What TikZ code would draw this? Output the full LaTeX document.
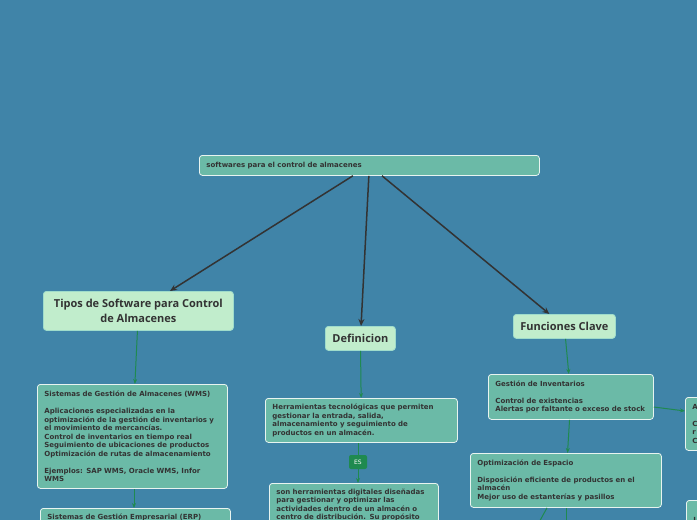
\documentclass[tikz,border=0pt]{standalone}
\usepackage{fontspec}
\setmainfont{DejaVu Sans}
\newfontfamily\headfont{Open Sans}
\usetikzlibrary{arrows.meta,calc}
\definecolor{bg}{HTML}{4084A8}
\definecolor{tealbox}{HTML}{6BBAA7}
\definecolor{mint}{HTML}{C1EDCC}
\definecolor{edgegreen}{HTML}{1F8A50}
\definecolor{ink}{HTML}{333333}
\definecolor{boxline}{HTML}{E8F4F0}
\definecolor{mintline}{HTML}{9FDCCB}
\tikzset{
  tbox/.style={draw=boxline, line width=0.8pt, fill=tealbox, rounded corners=3pt,
    anchor=north west, align=left, inner xsep=7pt, inner ysep=5.5pt,
    font=\bfseries\fontsize{7}{8.5}\selectfont, text=ink},
  mbox/.style={draw=mintline, line width=0.8pt, fill=mint, rounded corners=3pt,
    anchor=north west, align=center, inner sep=0pt,
    font=\headfont\bfseries\fontsize{11}{15}\selectfont, text=ink},
  darrow/.style={draw=ink, line width=1.5pt, -{Stealth[length=7pt,width=6pt]}},
  garrow/.style={draw=edgegreen, line width=1pt, -{Stealth[length=5pt,width=4pt]}},
  gline/.style={draw=edgegreen, line width=1pt},
  eslabel/.style={fill=edgegreen, rounded corners=2pt, text=white, inner sep=0pt,
    minimum width=18pt, minimum height=14pt, font=\fontsize{6}{7}\selectfont}
}
\begin{document}
\begin{tikzpicture}[x=1pt,y=-1pt]
\useasboundingbox (0,0) rectangle (697,520);
\clip (0,0) rectangle (697,520);
\fill[bg] (0,0) rectangle (697,520);

% root
\node[tbox, text width=326pt, minimum height=20pt] (root) at (199,155)
  {softwares para el control de almacenes};

% level 1
\node[mbox, minimum width=190pt, minimum height=39pt] (tipos) at (43,291)
  {Tipos de Software para Control\\de Almacenes};
\node[mbox, minimum width=70pt, minimum height=24pt] (defi) at (325,326) {Definicion};
\node[mbox, minimum width=102pt, minimum height=24pt] (func) at (513,314) {Funciones Clave};

% left column
\node[tbox, text width=176pt, minimum height=104pt] (wms) at (37,384)
  {Sistemas de Gestión de Almacenes (WMS)\\[8.5pt]
   Aplicaciones especializadas en la\\
   optimización de la gestión de inventarios y\\
   el movimiento de mercancías.\\
   Control de inventarios en tiempo real\\
   Seguimiento de ubicaciones de productos\\
   Optimización de rutas de almacenamiento\\[8.5pt]
   Ejemplos: SAP WMS, Oracle WMS, Infor\\
   WMS};
\node[tbox, text width=176pt] (erp) at (40,508)
  {Sistemas de Gestión Empresarial (ERP)};

% middle column
\node[tbox, text width=178pt, minimum height=44pt] (herr) at (265,398)
  {Herramientas tecnológicas que permiten\\
   gestionar la entrada, salida,\\
   almacenamiento y seguimiento de\\
   productos en un almacén.};
\node[eslabel] (es) at (358,462) {ES};
\node[tbox, text width=155pt] (son) at (269,483)
  {son herramientas digitales diseñadas\\
   para gestionar y optimizar las\\
   actividades dentro de un almacén o\\
   centro de distribución. Su propósito};

% right column
\node[tbox, text width=151pt, minimum height=45pt] (gest) at (488,374)
  {Gestión de Inventarios\\[8.5pt]
   Control de existencias\\
   Alertas por faltante o exceso de stock};
\node[tbox, text width=177pt, minimum height=54pt] (opt) at (470,453)
  {Optimización de Espacio\\[8.5pt]
   Disposición eficiente de productos en el\\
   almacén\\
   Mejor uso de estanterías y pasillos};
\node[tbox, text width=60pt, minimum height=53pt] (fr) at (685,397)
  {A\\[8.5pt]C\\r\\C};
\node[tbox, text width=60pt, minimum height=40pt] (fr2) at (686,500) {I};
\coordinate (o1) at (537,526);
\coordinate (o2) at (566,530);

% connectors
\draw[darrow] (root) -- (tipos);
\draw[darrow] (root) -- (defi);
\draw[darrow] (root) -- (func);
\draw[garrow] (tipos) -- (wms);
\draw[garrow] (wms.south -| 134,0) -- (erp.north -| 134,0);
\draw[garrow] (defi) -- (herr);
\draw[gline] (herr.south -| es) -- (es);
\draw[garrow] (es) -- (es |- son.north);
\draw[garrow] (func) -- (gest);
\draw[garrow] (gest) -- (opt);
\draw[garrow] (gest.east |- 0,407) -- (fr.west |- 0,411);
\draw[gline] (opt.south -| 547,0) -- (o1);
\draw[garrow] (opt.south -| 566,0) -- (o2);
\end{tikzpicture}
\end{document}
